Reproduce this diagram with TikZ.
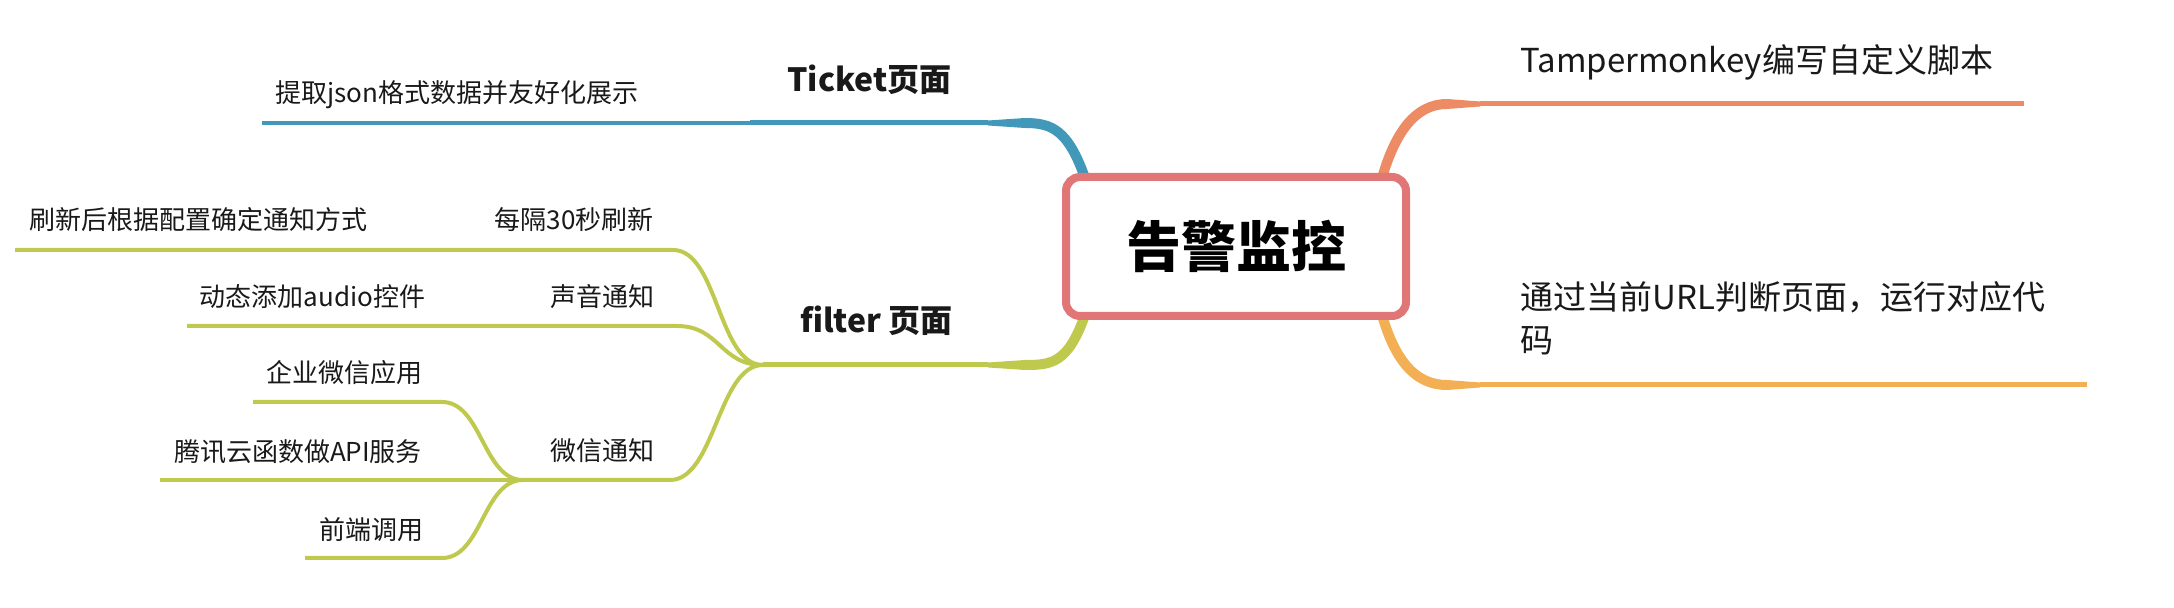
\documentclass[tikz,border=0pt]{standalone}
\usepackage{fontspec}
\setmainfont{Noto Sans CJK SC}
\usetikzlibrary{positioning,calc}
\definecolor{rootred}{RGB}{224,118,117}
\definecolor{ticketblue}{RGB}{66,152,185}
\definecolor{filtergreen}{RGB}{190,201,77}
\definecolor{monkeyorange}{RGB}{236,139,100}
\definecolor{urlorange}{RGB}{243,175,84}

\begin{document}
\begin{tikzpicture}[x=0.5pt, y=-0.5pt,
    root/.style={draw=rootred, line width=4pt, rounded corners=7pt, fill=white, inner sep=0pt,
        minimum width=170pt, minimum height=69.5pt, font=\fontsize{27.5}{30}\selectfont\bfseries},
    topic/.style={inner sep=0pt, text=black!90, font=\fontsize{16}{19}\selectfont\bfseries},
    leaf/.style={inner sep=0pt, text=black!90, font=\fontsize{13}{16}\selectfont},
    side/.style={inner sep=0pt, align=left, text=black!90, font=\fontsize{16.5}{21.5}\selectfont},
    curvebranch/.style={line width=5pt},
    stem/.style={line width=2.5pt},
    twig/.style={line width=2pt, line join=round}
]
    \useasboundingbox (0,0) rectangle (2174,608);

    % points on the branches
    \coordinate (ticketRoot) at (1085,178);
    \coordinate (ticketBend) at (1025,123);
    \coordinate (ticketTip) at (988,123);
    \coordinate (ticketTail) at (750,123);
    \coordinate (jsonEnd) at (262,123);

    \coordinate (filterRoot) at (1085,315);
    \coordinate (filterBend) at (1025,365);
    \coordinate (filterTip) at (988,365);
    \coordinate (filterHub) at (763,365);
    \coordinate (refreshBend) at (673,250);
    \coordinate (refreshEnd) at (15,250);
    \coordinate (soundBend) at (677,326);
    \coordinate (soundEnd) at (187,326);
    \coordinate (wechatBend) at (670,480);
    \coordinate (wechatHub) at (523,480);
    \coordinate (corpBend) at (442,402);
    \coordinate (corpEnd) at (253,402);
    \coordinate (cloudEnd) at (160,480);
    \coordinate (frontBend) at (442,558);
    \coordinate (frontEnd) at (305,558);

    \coordinate (monkeyRoot) at (1382,178);
    \coordinate (monkeyBend) at (1447,104);
    \coordinate (monkeyTip) at (1480,104);
    \coordinate (monkeyEnd) at (2024,104);
    \coordinate (urlRoot) at (1382,315);
    \coordinate (urlBend) at (1447,385);
    \coordinate (urlTip) at (1480,385);
    \coordinate (urlEnd) at (2087,385);

    % Ticket branch
    \draw[ticketblue, curvebranch] (ticketRoot) .. controls +(-17,-48) and +(27,0) .. (ticketBend);
    \fill[ticketblue] ($(ticketBend)+(0,-5)$) -- ($(ticketTip)+(0,-2.5)$) -- ($(ticketTip)+(0,2.5)$) -- ($(ticketBend)+(0,5)$) -- cycle;
    \draw[ticketblue, stem] (ticketTip) -- (ticketTail);
    \draw[ticketblue, twig] (ticketTail) -- (jsonEnd);

    % filter branch
    \draw[filtergreen, curvebranch] (filterRoot) .. controls +(-17,48) and +(27,0) .. (filterBend);
    \fill[filtergreen] ($(filterBend)+(0,-5)$) -- ($(filterTip)+(0,-2.5)$) -- ($(filterTip)+(0,2.5)$) -- ($(filterBend)+(0,5)$) -- cycle;
    \draw[filtergreen, stem] (filterTip) -- (filterHub);
    \draw[filtergreen, twig] (filterHub) .. controls +(-45,0) and +(45,0) .. (refreshBend) -- (refreshEnd);
    \draw[filtergreen, twig] (filterHub) .. controls +(-43,0) and +(43,0) .. (soundBend) -- (soundEnd);
    \draw[filtergreen, twig] (filterHub) .. controls +(-45,0) and +(45,0) .. (wechatBend) -- (wechatHub);
    \draw[filtergreen, twig] (wechatHub) .. controls +(-40,0) and +(40,0) .. (corpBend) -- (corpEnd);
    \draw[filtergreen, twig] (wechatHub) -- (cloudEnd);
    \draw[filtergreen, twig] (wechatHub) .. controls +(-40,0) and +(40,0) .. (frontBend) -- (frontEnd);

    % right branches
    \draw[monkeyorange, curvebranch] (monkeyRoot) .. controls +(13,-45) and +(-32,0) .. (monkeyBend);
    \fill[monkeyorange] ($(monkeyBend)+(0,-5)$) -- ($(monkeyTip)+(0,-2.5)$) -- ($(monkeyTip)+(0,2.5)$) -- ($(monkeyBend)+(0,5)$) -- cycle;
    \draw[monkeyorange, stem] (monkeyTip) -- (monkeyEnd);
    \draw[urlorange, curvebranch] (urlRoot) .. controls +(13,45) and +(-32,0) .. (urlBend);
    \fill[urlorange] ($(urlBend)+(0,-5)$) -- ($(urlTip)+(0,-2.5)$) -- ($(urlTip)+(0,2.5)$) -- ($(urlBend)+(0,5)$) -- cycle;
    \draw[urlorange, stem] (urlTip) -- (urlEnd);

    % texts
    \node[root] (alarm) at (1236,246.5) {告警监控};
    \node[topic] (ticket) at (869.5,80) {Ticket页面};
    \node[topic] (filter) at (876.5,321) {filter 页面};
    \node[leaf] (json) at (457,95) {提取json格式数据并友好化展示};
    \node[leaf] (refresh) at (574,220) {每隔30秒刷新};
    \node[leaf] (config) at (198.5,220) {刷新后根据配置确定通知方式};
    \node[leaf] (sound) at (602,297) {声音通知};
    \node[leaf] (audio) at (312.5,297) {动态添加audio控件};
    \node[leaf] (wechat) at (602,451) {微信通知};
    \node[leaf] (corp) at (344.5,373) {企业微信应用};
    \node[leaf] (cloud) at (298,452) {腾讯云函数做API服务};
    \node[leaf] (front) at (371.5,530) {前端调用};
    \node[side, anchor=west] (monkey) at (1520,62) {Tampermonkey编写自定义脚本};
    \node[side, anchor=west] (url) at (1520,318.5) {通过当前URL判断页面，运行对应代\\码};
\end{tikzpicture}
\end{document}
